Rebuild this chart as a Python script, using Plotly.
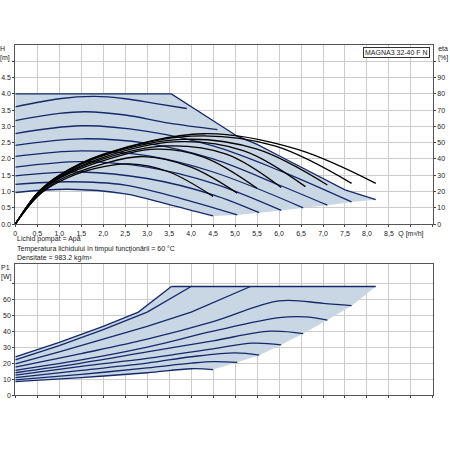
import plotly.graph_objects as go

# ---- head curves H [m] vs Q [m3/h] ----
head_q = [
    [0, 1.0, 1.8, 2.5, 3.2, 3.9],
    [0, 1.0, 1.6, 2.5, 3.5, 4.6],
    [0, 1.5, 3.0, 4.5, 6.0, 7.65],
    [0, 1.5, 3.0, 4.5, 6.0, 7.1],
    [0, 1.5, 3.0, 4.5, 6.55],
    [0, 1.5, 3.0, 4.5, 6.05],
    [0, 1.5, 3.0, 4.5, 5.55],
    [0, 1.2, 2.5, 4.0, 5.05],
    [0, 1.2, 2.5, 3.5, 4.5],
]
head_h = [
    [3.6, 3.85, 3.92, 3.85, 3.7, 3.55],
    [3.18, 3.4, 3.45, 3.35, 3.1, 2.9],
    [2.78, 3.02, 2.85, 2.4, 1.65, 0.68],
    [2.42, 2.62, 2.48, 2.0, 1.2, 0.58],
    [2.08, 2.25, 2.1, 1.6, 0.5],
    [1.75, 1.92, 1.75, 1.25, 0.42],
    [1.48, 1.6, 1.4, 0.9, 0.35],
    [1.22, 1.3, 1.2, 0.7, 0.28],
    [0.97, 1.07, 0.93, 0.6, 0.25],
]
max_q = [0, 3.55, 5.05, 5.5, 6.0, 6.5, 7.0, 7.5, 8.2]
max_h = [4.0, 4.0, 2.7, 2.45, 2.1, 1.75, 1.4, 1.05, 0.75]
low_q = [8.2, 7.65, 7.1, 6.55, 6.05, 5.55, 5.05, 4.5]
low_h = [0.75, 0.68, 0.58, 0.5, 0.42, 0.35, 0.28, 0.25]

# ---- efficiency curves eta [%] ----
eta_q = [
    [0, 0.5, 1.0, 1.8, 2.6, 3.5, 4.5],
    [0, 0.5, 1.0, 2.0, 2.9, 4.0, 5.05],
    [0, 0.5, 1.0, 2.0, 3.2, 4.3, 5.5],
    [0, 0.5, 1.0, 2.0, 3.4, 4.8, 6.05],
    [0, 0.5, 1.0, 2.0, 3.6, 5.2, 6.6],
    [0, 0.5, 1.0, 2.0, 3.8, 5.5, 7.1],
    [0, 0.5, 1.0, 2.0, 4.0, 5.9, 7.65],
    [0, 0.5, 1.0, 2.0, 4.3, 6.4, 8.2],
]
eta_v = [
    [0, 17, 26, 34, 37, 32, 17],
    [0, 17, 27, 37, 41.5, 35, 19],
    [0, 18, 28, 39, 46, 41, 22],
    [0, 18, 28.5, 40, 48, 43, 22.5],
    [0, 18.5, 29, 41, 50.5, 45, 23],
    [0, 18.5, 29.5, 42, 52, 46, 24],
    [0, 19, 30, 42.5, 54, 48, 25],
    [0, 19, 30, 43, 55.5, 46, 25],
]

# ---- power curves P1 [W] ----
pow_q = [
    [0, 1, 2, 2.8, 3.55],
    [0, 1, 2, 3, 4.0],
    [0, 1, 2, 3, 4, 5.35],
    [0, 1.5, 3, 4.5, 6.0, 7.0, 7.65],
    [0, 1.5, 3, 4.5, 6.0, 6.6, 7.1],
    [0, 1.5, 3, 4.5, 5.8, 6.55],
    [0, 1.5, 3, 4.5, 5.4, 6.05],
    [0, 1.5, 3, 4, 5.0, 5.55],
    [0, 1.5, 3, 4, 4.5, 5.05],
    [0, 1.5, 3, 4, 4.5],
]
pow_p = [
    [24, 33, 43, 52, 68],
    [22, 31, 41, 52, 68],
    [19.5, 27, 35, 43, 52, 68],
    [17.5, 26, 35, 46, 59, 57.5, 56],
    [15.5, 22, 30, 40, 48.5, 49, 47],
    [14, 20, 27, 34, 40, 38.5],
    [12.5, 18, 23, 29, 32.5, 31.5],
    [11, 15.5, 20, 24, 26.5, 25],
    [9.5, 13, 17, 20, 21, 20.5],
    [8.5, 11, 14, 16.5, 16],
]
pmax_q = [3.55, 8.2]
pmax_p = [68, 68]
plow_q = [8.2, 7.65, 7.1, 6.55, 6.05, 5.55, 5.05, 4.5]
plow_p = [68, 56, 47, 38.5, 31.5, 25, 20.5, 16]

NAVY = "#14286b"
FILL = "#c9d6e3"
GRID = "#cccccc"
FONT = dict(family="Liberation Sans", size=7, color="#222")

fig = go.Figure()

# top fill
fq = max_q + low_q + head_q[-1][::-1]
fh = max_h + low_h + head_h[-1][::-1]
fig.add_trace(go.Scatter(x=fq, y=fh, fill="toself", fillcolor=FILL, mode="none",
                         xaxis="x", yaxis="y", hoverinfo="skip"))
for q, h in zip(head_q, head_h):
    fig.add_trace(go.Scatter(x=q, y=h, mode="lines", line=dict(color=NAVY, width=1.3, shape="spline"),
                             xaxis="x", yaxis="y"))
fig.add_trace(go.Scatter(x=max_q, y=max_h, mode="lines", line=dict(color=NAVY, width=1.3),
                         xaxis="x", yaxis="y"))
for q, e in zip(eta_q, eta_v):
    fig.add_trace(go.Scatter(x=q, y=e, mode="lines", line=dict(color="black", width=1.3, shape="spline"),
                             xaxis="x", yaxis="y2"))

# bottom fill
bq = pow_q[0] + pmax_q + plow_q + pow_q[-1][::-1]
bp = pow_p[0] + pmax_p + plow_p + pow_p[-1][::-1]
fig.add_trace(go.Scatter(x=bq, y=bp, fill="toself", fillcolor=FILL, mode="none",
                         xaxis="x2", yaxis="y3", hoverinfo="skip"))
for i, (q, p) in enumerate(zip(pow_q, pow_p)):
    fig.add_trace(go.Scatter(x=q, y=p, mode="lines",
                             line=dict(color=NAVY, width=1.3, shape="linear" if i < 3 else "spline"),
                             xaxis="x2", yaxis="y3"))
fig.add_trace(go.Scatter(x=pmax_q, y=pmax_p, mode="lines", line=dict(color=NAVY, width=1.6),
                         xaxis="x2", yaxis="y3"))

xt = [i * 0.5 for i in range(20)]
xlab = ["0"] + [f"{v:.1f}".replace(".", ",") for v in xt[1:18]] + ["Q [m³/h]", ""]
xdom = [0.034, 0.962]
ax_common = dict(range=[0, 9.5], showgrid=True, gridcolor=GRID, showline=True, linecolor="#555",
                 mirror=True, zeroline=False, tickfont=FONT, ticks="outside", ticklen=2,
                 automargin=False)
yax_common = dict(showgrid=True, gridcolor=GRID, showline=True, linecolor="#555", mirror=True,
                  zeroline=False, tickfont=FONT, ticks="outside", ticklen=2, automargin=False)
fig.update_layout(
    width=450, height=450, showlegend=False, plot_bgcolor="white", paper_bgcolor="white",
    margin=dict(l=0, r=0, t=0, b=0),
    xaxis=dict(ax_common, domain=xdom, anchor="y", tickvals=xt, ticktext=xlab),
    yaxis=dict(yax_common, range=[0, 5.5], domain=[0.502, 0.9],
               tickvals=[i * 0.5 for i in range(11)],
               ticktext=[f"{i*0.5:.1f}" for i in range(10)] + [""]),
    yaxis2=dict(range=[0, 110], overlaying="y", side="right", anchor="x", automargin=False,
                tickvals=list(range(0, 101, 10)), ticktext=[str(v) for v in range(0, 91, 10)] + [""],
                showgrid=False, zeroline=False, tickfont=FONT, ticks="outside", ticklen=2),
    xaxis2=dict(ax_common, domain=xdom, anchor="y3", tickvals=xt, ticktext=[""] * 20),
    yaxis3=dict(yax_common, range=[0, 82], domain=[0.122, 0.413],
                tickvals=list(range(0, 71, 10)),
                ticktext=[str(v) for v in range(0, 61, 10)] + [""], anchor="x2"),
)

ann = [
    dict(x=0.012, y=0.905, text="H<br>[m]", xanchor="center", yanchor="top", align="left"),
    dict(x=0.985, y=0.905, text="eta<br>[%]", xanchor="center", yanchor="top"),
    dict(x=0.014, y=0.418, text="P1<br>[W]", xanchor="center", yanchor="top", align="left"),
    dict(x=0.034, y=0.468, text="Lichid pompat = Apă", xanchor="left", yanchor="middle"),
    dict(x=0.034, y=0.447, text="Temperatura lichidului în timpul funcţionării = 60 °C",
         xanchor="left", yanchor="middle"),
    dict(x=0.034, y=0.426, text="Densitate = 983.2 kg/m³", xanchor="left", yanchor="middle"),
    dict(x=0.955, y=0.895, text="MAGNA3 32-40 F N", xanchor="right", yanchor="top",
         bordercolor="#333", borderwidth=1, borderpad=1, bgcolor="white"),
]
for a in ann:
    fig.add_annotation(xref="paper", yref="paper", showarrow=False, font=FONT, **a)

fig.write_html("out.html", config={"displayModeBar": False},
               post_script="document.body.style.margin='0';")
